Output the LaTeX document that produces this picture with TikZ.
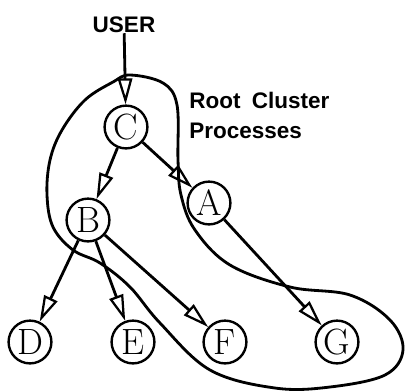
\documentclass[tikz,border=0pt]{standalone}
\usepackage{fontspec}
\newfontfamily\labelfont{Liberation Sans}
\usetikzlibrary{arrows.meta}

\begin{document}
\begin{tikzpicture}[
				      x=0.025cm, y=-0.025cm,
				      proc/.style = {shape=circle, draw, line width=1.7pt,
						      minimum size=1.07cm, inner sep=0pt,
						      font=\fontsize{26}{26}\selectfont},
				      flow/.style = {draw, line width=2pt,
						      -{Triangle[open, length=6.5mm, width=3.6mm, line width=1.6pt]}},
				      tag/.style = {align=left, inner sep=0pt,
						      font=\labelfont\bfseries\fontsize{16}{21}\selectfont},
				      cluster/.style = {draw, line width=2pt}
			      ]
			      \useasboundingbox (0,0) rectangle (406,390);

			      % processes
			      \node[tag] (user) at (124,25) {USER};
			      \node[proc] (c) at (126,127) {C};
			      \node[proc] (a) at (209,203) {A};
			      \node[proc] (b) at (88,220) {B};
			      \node[proc] (d) at (30,342) {D};
			      \node[proc] (e) at (133,342) {E};
			      \node[proc] (f) at (225,342) {F};
			      \node[proc] (g) at (337,342) {G};
			      \node[tag, anchor=north west] (root) at (189,92) {Root\enspace Cluster\\Processes};

			      % calls
			      \draw[flow] (user) -- (c);
			      \draw[flow] (c) -- (b);
			      \draw[flow] (c) -- (a);
			      \draw[flow] (b) -- (d);
			      \draw[flow] (b) -- (e);
			      \draw[flow] (b) -- (f);
			      \draw[flow] (a) -- (g);

			      % root cluster
			      \draw[cluster] plot[smooth cycle, tension=0.6] coordinates {
					      (130,75) (163,83) (177,105) (178,160) (181,195) (195,230)
					      (230,265) (290,287) (350,295) (390,320) (403,350) (385,375)
					      (330,387) (275,388) (210,370) (160,323) (130,287) (100,263)
					      (73,250) (53,227) (47,195) (50,160) (62,130) (85,100) (113,82)};
		      \end{tikzpicture}
\end{document}
